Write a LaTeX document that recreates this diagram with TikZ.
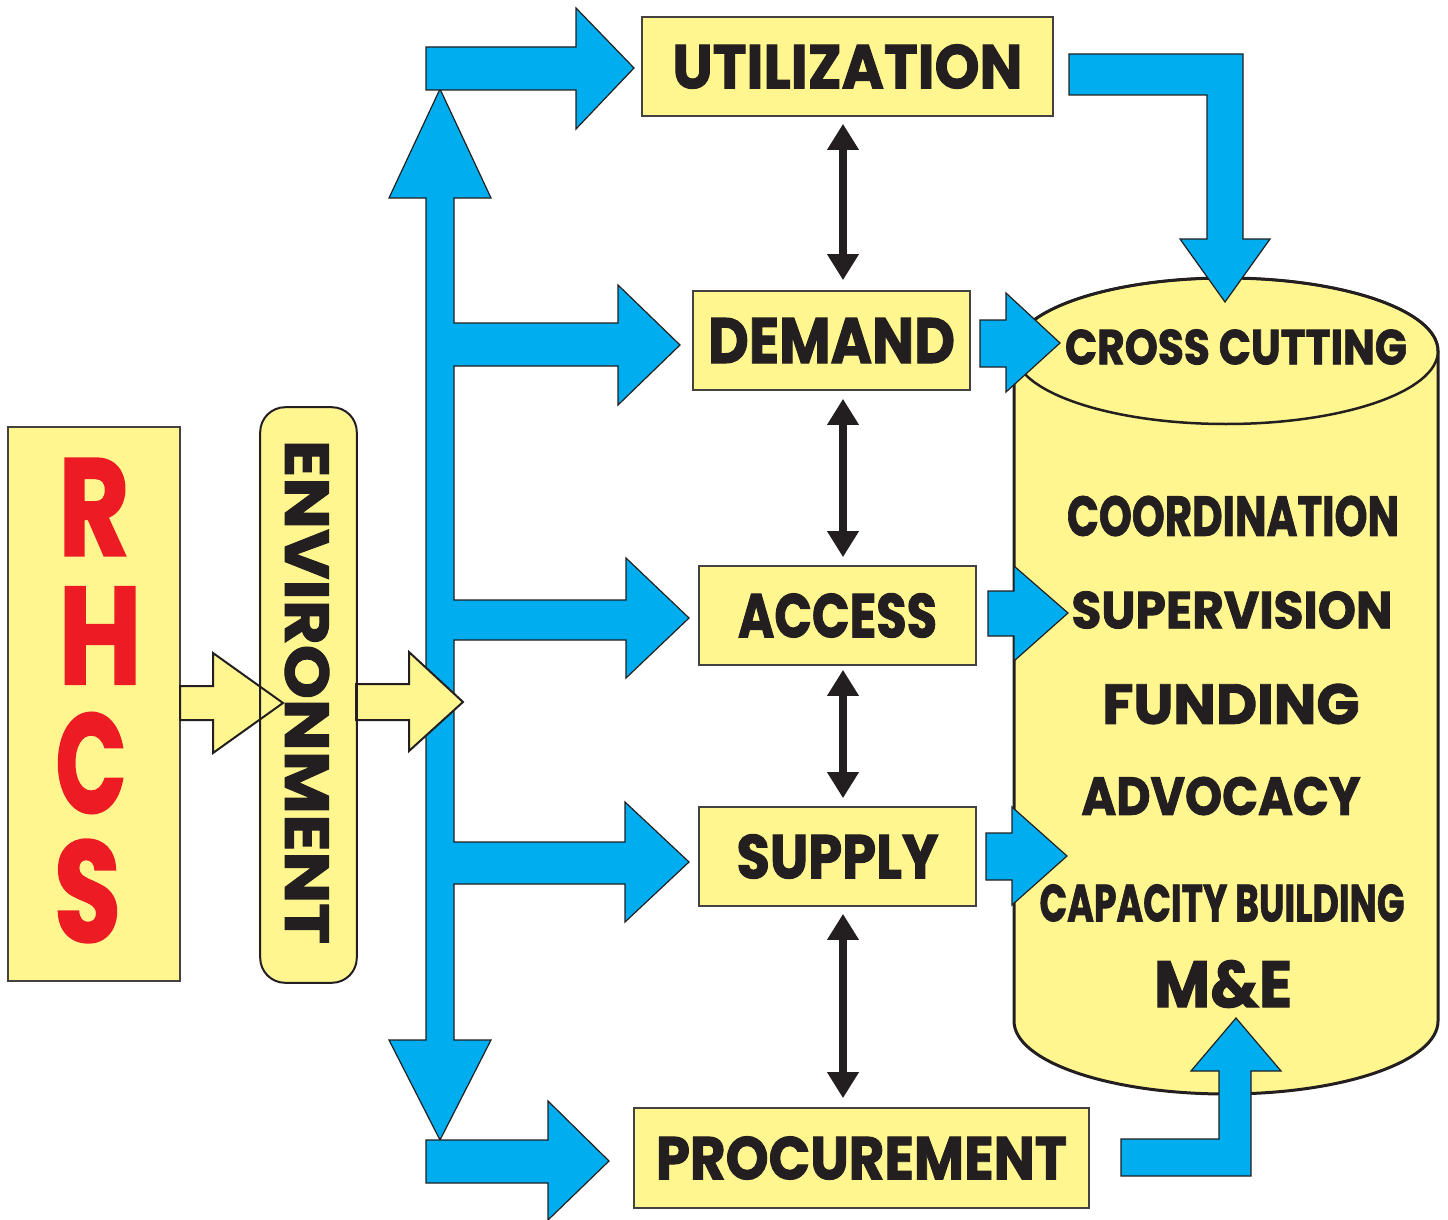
\documentclass[tikz,border=0pt]{standalone}
\usepackage{fontspec}
\setmainfont{Poppins}[BoldFeatures={FakeBold=1.6}]
\usepackage{graphicx}
\usetikzlibrary{arrows.meta}
\definecolor{cyanb}{HTML}{00AEEF}
\definecolor{yel}{HTML}{FFF68F}
\definecolor{ink}{HTML}{231F20}
\definecolor{rhred}{HTML}{ED1C24}
\newcommand{\fitt}[3]{\resizebox{#1pt}{#2pt}{\bfseries #3}}
\begin{document}
\begin{tikzpicture}[x=1pt,y=-1pt,
  box/.style={draw=ink!85, line width=1.6pt, fill=yel, inner sep=0pt, text=ink},
  blk/.style={fill=cyanb, draw=ink, line width=1.2pt, line join=miter},
  yarr/.style={fill=yel, draw=ink, line width=2pt, line join=miter},
  dbl/.style={draw=ink, line width=8.7pt, {Triangle[length=26pt,width=30pt]}-{Triangle[length=26pt,width=30pt]}},
  lbl/.style={text=ink, inner sep=0pt},
]
\useasboundingbox (0,0) rectangle (1448,1220);
\fill[white] (0,0) rectangle (1448,1220);

% cylinder
\path[fill=yel, draw=ink, line width=3pt] (1014,351) -- (1014,1021)
  arc[start angle=180, end angle=360, x radius=212pt, y radius=73pt]
  -- (1438,351)
  arc[start angle=0, end angle=180, x radius=212pt, y radius=73pt] -- cycle;
\draw[ink, line width=2.5pt] (1226,351) ellipse[x radius=212pt, y radius=73pt];
\coordinate (cyl) at (1226,700);

% boxes
\node[box, minimum width=171.5pt, minimum height=554pt] (rhcs) at (94,704) {};
\node[box, draw=none, rounded corners=25pt, minimum width=95pt, minimum height=574pt] (env) at (308.5,695) {};
\node[box, minimum width=411pt, minimum height=99pt] (util) at (847.5,66.5) {\fitt{350}{44}{UTILIZATION}};
\node[box, minimum width=277pt, minimum height=99pt] (demand) at (831.5,340.5) {\fitt{247}{45}{DEMAND}\hspace{7pt}};
\node[box, minimum width=277pt, minimum height=99pt] (access) at (837.5,615.5) {\fitt{199}{44}{ACCESS}\hspace{11pt}};
\node[box, minimum width=277pt, minimum height=99pt] (supply) at (837.5,856.5) {\fitt{202}{44}{SUPPLY}\hspace{7pt}};
\node[box, minimum width=455pt, minimum height=100pt] (proc) at (861.5,1158) {\fitt{411}{43}{PROCUREMENT}\hspace{7pt}};

% blue trunk with branches
\draw[blk] (440,89) -- (491,198) -- (454,198) -- (454,323) -- (618,323) -- (618,285)
  -- (680,345) -- (618,405) -- (618,366) -- (454,366) -- (454,600) -- (626,600)
  -- (626,558) -- (689,618) -- (626,678) -- (626,640) -- (454,640) -- (454,842)
  -- (625,842) -- (625,802) -- (689,862) -- (625,922) -- (625,884) -- (454,884)
  -- (454,1040) -- (491,1040) -- (440,1140) -- (389,1040) -- (426,1040)
  -- (426,198) -- (389,198) -- cycle;
% to utilization
\draw[blk] (426,47) -- (576,47) -- (576,8) -- (634,68) -- (576,129) -- (576,90) -- (426,90) -- cycle;
% to procurement
\draw[blk] (426,1140) -- (548,1140) -- (548,1101) -- (609,1161) -- (548,1220) -- (548,1183) -- (426,1183) -- cycle;

% arrows into cylinder
\draw[blk] (1069,54) -- (1243,54) -- (1243,239) -- (1270,239) -- (1225,302) -- (1180,239)
  -- (1207,239) -- (1207,95) -- (1069,95) -- cycle;
\draw[blk] (980,320) -- (1006,320) -- (1006,293) -- (1060,343) -- (1006,392) -- (1006,367) -- (980,367) -- cycle;
\draw[blk] (988,591) -- (1014,591) -- (1014,566) -- (1068,613) -- (1014,661) -- (1014,636) -- (988,636) -- cycle;
\draw[blk] (986,833) -- (1012,833) -- (1012,807) -- (1067,856) -- (1012,905) -- (1012,880) -- (986,880) -- cycle;
\draw[blk] (1121,1139) -- (1219,1139) -- (1219,1071) -- (1191,1071) -- (1236,1018) -- (1281,1071)
  -- (1251,1071) -- (1251,1176) -- (1121,1176) -- cycle;

% yellow arrows
\draw[yarr] (180,686) -- (213,686) -- (213,653) -- (283,703) -- (213,753) -- (213,720) -- (180,720) -- cycle;
\draw[yarr] (356,684) -- (409,684) -- (409,652) -- (463,702) -- (409,751) -- (409,720) -- (356,720) -- cycle;
\draw[ink, line width=2pt, rounded corners=25pt] (env.north west) rectangle (env.south east);

% texts on left
\node[lbl, rotate=-90] (envtext) at (307,692) {\fitt{504}{44}{ENVIRONMENT}};
\node[lbl, text=rhred] (lR) at (94,507) {\fitt{71}{97}{R}};
\node[lbl, text=rhred] (lH) at (100,635.5) {\fitt{83}{97}{H}};
\node[lbl, text=rhred] (lC) at (91,763) {\fitt{71}{100}{C}};
\node[lbl, text=rhred] (lS) at (87.5,891) {\fitt{67}{102}{S}};

% double arrows
\draw[dbl, shorten <=7pt, shorten >=10pt] (843,0 |- util.south) -- (843,0 |- demand.north);
\draw[dbl, shorten <=8pt, shorten >=8pt] (843,0 |- demand.south) -- (843,0 |- access.north);
\draw[dbl, shorten <=4pt, shorten >=8pt] (843,0 |- access.south) -- (843,0 |- supply.north);
\draw[dbl, shorten <=7pt, shorten >=9pt] (843,0 |- supply.south) -- (843,0 |- proc.north);

% cylinder texts
\node[lbl] (cross) at (1236,347) {\fitt{342}{35}{CROSS CUTTING}};
\node[lbl] (coord) at (1233,516) {\fitt{332}{40}{COORDINATION}};
\node[lbl] (superv) at (1232,610) {\fitt{321}{37}{SUPERVISION}};
\node[lbl] (fund) at (1231,704) {\fitt{257}{40}{FUNDING}};
\node[lbl] (advo) at (1221,796) {\fitt{279}{38}{ADVOCACY}};
\node[lbl] (capb) at (1222,903) {\fitt{365}{37}{CAPACITY BUILDING}};
\node[lbl] (mande) at (1223,984) {\fitt{138}{47}{M\&E}};
\end{tikzpicture}
\end{document}
